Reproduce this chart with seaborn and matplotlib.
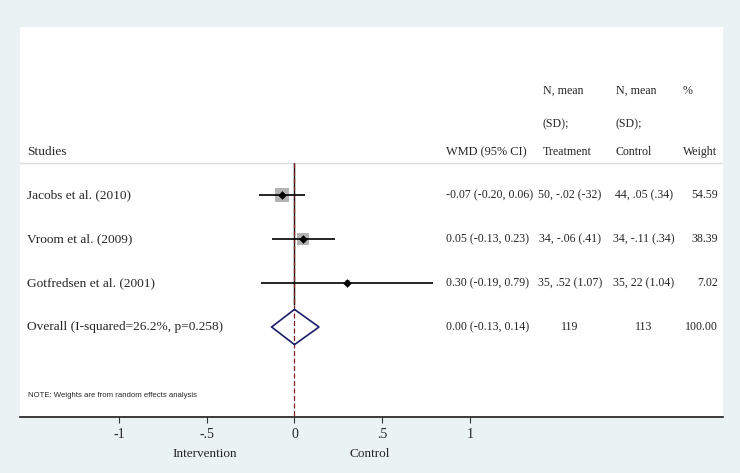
import matplotlib
matplotlib.use("Agg")
import matplotlib.pyplot as plt
import matplotlib.transforms as mtransforms
import pandas as pd
import seaborn as sns

# study-level data
studies = ["Jacobs et al. (2010)", "Vroom et al. (2009)", "Gotfredsen et al. (2001)"]
wmd = [-0.07, 0.05, 0.30]
ci_lo = [-0.20, -0.13, -0.19]
ci_hi = [0.06, 0.23, 0.79]
treatment = ["50, -.02 (-32)", "34, -.06 (.41)", "35, .52 (1.07)"]
control = ["44, .05 (.34)", "34, -.11 (.34)", "35, 22 (1.04)"]
weight = [54.59, 38.39, 7.02]

# pooled estimate
overall_label = "Overall (I-squared=26.2%, p=0.258)"
overall_est, overall_lo, overall_hi = 0.00, -0.13, 0.14
overall_treat, overall_ctrl, overall_weight = "119", "113", 100.00

xticks = [-1, -0.5, 0, 0.5, 1]
xtick_labels = ["-1", "-.5", "0", ".5", "1"]

BG = "#eaf2f3"
SERIF = "Liberation Serif"


def px_row(p):
    # convert a vertical pixel position of the reference into row units
    return (p - 195) / 44.0


def run():
    sns.set_style("white")
    plt.rcParams["font.family"] = [SERIF, "DejaVu Serif"]

    df = pd.DataFrame({"study": studies, "wmd": wmd, "lo": ci_lo, "hi": ci_hi,
                       "weight": weight})
    df["row"] = range(len(df))
    n = len(df)

    fig = plt.figure(figsize=(7.4, 4.73), dpi=100, facecolor=BG)
    ax = fig.add_axes([20 / 740, (473 - 416.5) / 473, 703 / 740, 389.5 / 473])
    ax.set_facecolor("white")
    ax.set_xlim(-1.564, 2.442)
    ax.set_ylim(px_row(416.5), px_row(27))

    # separator under the header
    ax.axhline(px_row(163), color="#dddddd", lw=1.0)

    # null line and overall effect line
    ax.vlines(0, px_row(163), n - 0.5, color="black", lw=1.0, zorder=2)
    ax.vlines(overall_est, px_row(163), px_row(416.5), color="#7a1f1f", lw=0.9,
              linestyles=(0, (4, 2)), zorder=3)

    # weight boxes
    sns.scatterplot(data=df, x="wmd", y="row", size="weight", sizes=(0, 195),
                    size_norm=(0, 100), marker="s", color="#b3b3b3",
                    edgecolor="none", legend=False, ax=ax, zorder=4)
    # confidence intervals
    ax.hlines(df["row"], df["lo"], df["hi"], color="black", lw=1.2, zorder=5)
    # point estimates
    sns.scatterplot(data=df, x="wmd", y="row", marker="D", s=16, color="black",
                    edgecolor="black", legend=False, ax=ax, zorder=6)

    # overall diamond
    h = 0.4
    ax.fill([overall_lo, overall_est, overall_hi, overall_est],
            [n, n - h, n, n + h], facecolor="none", edgecolor="#1c1c6b",
            lw=1.2, zorder=6)

    fs = 8.6
    fs_lab = 9.6
    x_study, x_wmd = -1.524, 0.866
    x_treat_c, x_ctrl_c, x_w_r = 1.570, 1.991, 2.413
    x_treat_h, x_ctrl_h, x_w_h = 1.416, 1.832, 2.214

    # header
    ax.text(x_study, px_row(152), "Studies", fontsize=fs_lab, va="center")
    ax.text(x_wmd, px_row(152), "WMD (95% CI)", fontsize=fs + 0.3, va="center")
    for x, lines in [(x_treat_h, ["N, mean", "(SD);", "Treatment"]),
                     (x_ctrl_h, ["N, mean", "(SD);", "Control"]),
                     (x_w_h, ["%", "", "Weight"])]:
        for p, s in zip([91, 124, 152], lines):
            ax.text(x, px_row(p), s, fontsize=fs, va="center")

    # study rows
    for i in range(n):
        ax.text(x_study, i, studies[i], fontsize=fs_lab, va="center")
        ax.text(x_wmd, i, f"{wmd[i]:.2f} ({ci_lo[i]:.2f}, {ci_hi[i]:.2f})",
                fontsize=fs, va="center")
        ax.text(x_treat_c, i, treatment[i], fontsize=fs, va="center", ha="center")
        ax.text(x_ctrl_c, i, control[i], fontsize=fs, va="center", ha="center")
        ax.text(x_w_r, i, f"{weight[i]:.2f}", fontsize=fs, va="center", ha="right")

    # overall row
    ax.text(x_study, n, overall_label, fontsize=fs_lab, va="center")
    ax.text(x_wmd, n, f"{overall_est:.2f} ({overall_lo:.2f}, {overall_hi:.2f})",
            fontsize=fs, va="center")
    ax.text(x_treat_c, n, overall_treat, fontsize=fs, va="center", ha="center")
    ax.text(x_ctrl_c, n, overall_ctrl, fontsize=fs, va="center", ha="center")
    ax.text(x_w_r, n, f"{overall_weight:.2f}", fontsize=fs, va="center", ha="right")

    ax.text(-1.519, px_row(395), "NOTE: Weights are from random effects analysis",
            fontsize=5.6, va="center", family=["Liberation Sans", "DejaVu Sans"])

    # axis styling
    for side in ["top", "left", "right"]:
        ax.spines[side].set_visible(False)
    ax.spines["bottom"].set_color("#1a1a1a")
    ax.spines["bottom"].set_linewidth(1.2)
    ax.set_yticks([])
    ax.set_xticks(xticks)
    ax.set_xticklabels(xtick_labels, fontsize=10)
    ax.tick_params(axis="x", direction="out", length=4, width=0.8, pad=4,
                   color="#333333", bottom=True)
    ax.set_xlabel("")
    ax.set_ylabel("")

    trans = mtransforms.blended_transform_factory(ax.transData, fig.transFigure)
    ax.text(-0.51, 1 - 454 / 473, "Intervention", fontsize=9.5, ha="center",
            va="center", transform=trans)
    ax.text(0.427, 1 - 454 / 473, "Control", fontsize=9.5, ha="center",
            va="center", transform=trans)

    fig.savefig("out.png", dpi=100, facecolor=BG)


if __name__ == "__main__":
    run()
